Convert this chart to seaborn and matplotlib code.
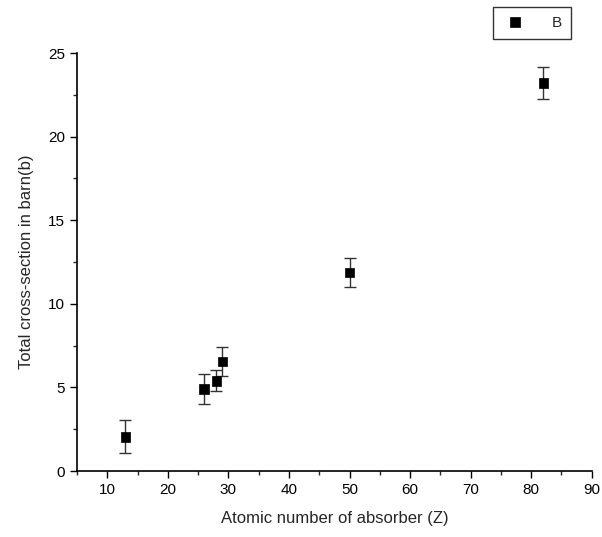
import matplotlib
matplotlib.use("Agg")
import matplotlib.pyplot as plt
import seaborn as sns
import pandas as pd
import numpy as np

Z = [13, 26, 28, 29, 50, 82]
sigma = [2.05, 4.9, 5.4, 6.54, 11.87, 23.2]
err = [1.0, 0.88, 0.63, 0.88, 0.87, 0.95]

sns.set_style("ticks")
plt.rcParams['font.family'] = ['Liberation Sans', 'DejaVu Sans']

df = pd.DataFrame({"Z": Z, "sigma": sigma, "err": err, "series": "B"})

fig = plt.figure(figsize=(6.02, 5.37), dpi=100)
ax = fig.add_axes([0.128, 0.1229, 0.855, 0.7784])

ax.errorbar(df["Z"], df["sigma"], yerr=df["err"], fmt="none", ecolor="#333333",
            elinewidth=1.0, capsize=4.5, capthick=1.0, zorder=2)
sns.scatterplot(data=df, x="Z", y="sigma", hue="series", palette=["black"],
                marker="s", s=48, edgecolor="black", linewidth=0.5, ax=ax, zorder=3)

ax.set_xlim(5, 90)
ax.set_ylim(0, 25)
ax.set_xticks(np.arange(10, 91, 10))
ax.set_xticks(np.arange(5, 91, 5), minor=True)
ax.set_yticks(np.arange(0, 26, 5))
ax.set_yticks(np.arange(0, 25.1, 2.5), minor=True)
ax.tick_params(axis="both", which="major", direction="out", length=5, width=1,
               labelsize=11, colors="black")
ax.tick_params(axis="both", which="minor", direction="out", length=3, width=1)
for s in ["top", "right"]:
    ax.spines[s].set_visible(False)
for s in ["left", "bottom"]:
    ax.spines[s].set_linewidth(1.2)
    ax.spines[s].set_color("black")

ax.set_xlabel("Atomic number of absorber (Z)", fontsize=12, labelpad=10)
ax.set_ylabel("Total cross-section in barn(b)", fontsize=12, labelpad=10)

handles, labels = ax.get_legend_handles_labels()
leg = ax.legend(handles, labels, loc="upper right", bbox_to_anchor=(0.959, 1.11),
                frameon=True, fancybox=False, edgecolor="black", fontsize=11,
                handletextpad=1.6, borderpad=0.6, borderaxespad=0.0,
                handlelength=1.6, markerscale=1.0)
leg.get_frame().set_linewidth(1.0)

fig.savefig("out.png", dpi=100)
